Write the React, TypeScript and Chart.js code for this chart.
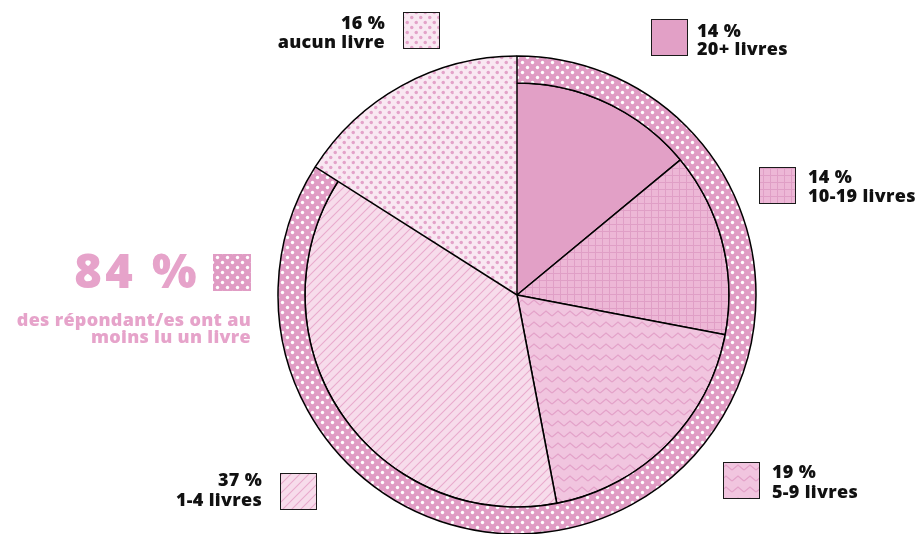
import React, { useEffect, useRef } from "react";
import { Chart, registerables } from "chart.js";

Chart.register(...registerables);

// ---- data ----
const categories = ["aucun livre", "20+ livres", "10-19 livres", "5-9 livres", "1-4 livres"];
const shares = [16, 14, 14, 19, 37];
const ringLabels = ["aucun livre", "au moins un livre"];
const ringValues = [16, 84];
const headline = "84 %";
const headlineText = ["des répondant/es ont au", "moins lu un livre"];

const FONT = "'Open Sans', Lato, sans-serif";

function tile(w: number, h: number, draw: (c: CanvasRenderingContext2D) => void): CanvasPattern {
  const cv = document.createElement("canvas");
  cv.width = w;
  cv.height = h;
  const c = cv.getContext("2d")!;
  draw(c);
  const p = document.createElement("canvas").getContext("2d")!.createPattern(cv, "repeat")!;
  return p;
}

function makePatterns() {
  const dot = (c: CanvasRenderingContext2D, x: number, y: number, r: number) => {
    c.beginPath();
    c.arc(x, y, r, 0, Math.PI * 2);
    c.fill();
  };
  const ring = tile(10, 10, (c) => {
    c.fillStyle = "#E09CC4";
    c.fillRect(0, 0, 10, 10);
    c.fillStyle = "#FFFFFF";
    dot(c, 2.5, 2.5, 1.7);
    dot(c, 7.5, 7.5, 1.7);
  });
  const none = tile(9, 10, (c) => {
    c.fillStyle = "#F9E8F2";
    c.fillRect(0, 0, 9, 10);
    c.fillStyle = "#E3A2C9";
    dot(c, 2.25, 2.5, 1.75);
    dot(c, 6.75, 7.5, 1.75);
  });
  const grid = tile(7, 7, (c) => {
    c.fillStyle = "#EDB7D6";
    c.fillRect(0, 0, 7, 7);
    c.fillStyle = "#E09FC6";
    c.fillRect(0, 0, 7, 1);
    c.fillRect(0, 0, 1, 7);
  });
  const zig = tile(12, 11, (c) => {
    c.fillStyle = "#F1C5DF";
    c.fillRect(0, 0, 12, 11);
    c.strokeStyle = "#E3A2C9";
    c.lineWidth = 1.3;
    c.beginPath();
    c.moveTo(0, 8);
    c.lineTo(6, 3);
    c.lineTo(12, 8);
    c.stroke();
  });
  const diag = tile(9, 9, (c) => {
    c.fillStyle = "#F7DCEB";
    c.fillRect(0, 0, 9, 9);
    c.strokeStyle = "#E8AACD";
    c.lineWidth = 1.1;
    c.beginPath();
    c.moveTo(-1, 10);
    c.lineTo(10, -1);
    c.moveTo(-1, 1);
    c.lineTo(1, -1);
    c.moveTo(8, 10);
    c.lineTo(10, 8);
    c.stroke();
  });
  return { ring, none, grid, zig, diag, solid: "#E2A0C6" };
}

export default function App() {
  const ref = useRef<HTMLCanvasElement>(null);

  useEffect(() => {
    const canvas = ref.current!;
    const P = makePatterns();
    const innerFills = [P.none, P.solid, P.grid, P.zig, P.diag];
    const ringFills = [P.none, P.ring];

    const labelLayout = [
      { sq: [403, 12], align: "right", tx: 385, ty: [29, 48] },
      { sq: [651, 19], align: "left", tx: 697, ty: [37, 55] },
      { sq: [759, 167], align: "left", tx: 808, ty: [183, 202] },
      { sq: [723, 462], align: "left", tx: 772, ty: [478, 498] },
      { sq: [280, 473], align: "right", tx: 262, ty: [486, 506] },
    ];

    const labelsPlugin = {
      id: "labels",
      afterDatasetsDraw(chart: any) {
        const ctx: CanvasRenderingContext2D = chart.ctx;
        const outerArc = chart.getDatasetMeta(0).data[0];
        ctx.save();
        ctx.strokeStyle = "#000";
        ctx.lineWidth = 1.5;
        ctx.beginPath();
        ctx.arc(outerArc.x, outerArc.y, outerArc.outerRadius, outerArc.startAngle, outerArc.endAngle);
        ctx.stroke();
        ctx.restore();
      },
      afterDraw(chart: any) {
        const ctx: any = chart.ctx;
        ctx.save();
        categories.forEach((cat, i) => {
          const L = labelLayout[i];
          ctx.fillStyle = innerFills[i] as any;
          ctx.fillRect(L.sq[0], L.sq[1], 36, 36);
          ctx.strokeStyle = "#1a1a1a";
          ctx.lineWidth = 1;
          ctx.strokeRect(L.sq[0] + 0.5, L.sq[1] + 0.5, 36, 36);
          ctx.fillStyle = "#111";
          ctx.font = `800 18px ${FONT}`;
          ctx.letterSpacing = "0.3px";
          ctx.textAlign = L.align as CanvasTextAlign;
          ctx.textBaseline = "alphabetic";
          ctx.fillText(`${shares[i]} %`, L.tx, L.ty[0]);
          ctx.fillText(cat, L.tx, L.ty[1]);
        });
        // headline
        ctx.fillStyle = P.ring as any;
        ctx.fillRect(213, 254, 38, 37);
        ctx.fillStyle = "#E6A3CA";
        ctx.textAlign = "right";
        ctx.font = `800 47px ${FONT}`;
        ctx.letterSpacing = "3.5px";
        ctx.fillText(headline, 200, 288);
        ctx.font = `800 18px ${FONT}`;
        ctx.letterSpacing = "0.3px";
        ctx.fillText(headlineText[0], 251, 326);
        ctx.fillText(headlineText[1], 251, 343);
        ctx.restore();
      },
    };

    const rotation = -(shares[0] / 100) * 360;

    const chart = new Chart(canvas, {
      type: "pie",
      data: {
        labels: categories,
        datasets: [
          {
            label: "ring",
            data: ringValues,
            backgroundColor: ringFills as any,
            borderColor: "#000",
            borderWidth: [0, 1.5],
            weight: 27,
            clip: false as any,
          } as any,
          {
            label: "shares",
            data: shares,
            backgroundColor: innerFills as any,
            borderColor: "#000",
            borderWidth: [0, 1.5, 1.5, 1.5, 1.5],
            weight: 212,
            clip: false as any,
          } as any,
        ],
      },
      options: {
        responsive: false,
        animation: false,
        events: [],
        rotation,
        radius: 239,
        layout: { padding: { left: 115, right: 0, top: 56, bottom: 0 } },
        plugins: { legend: { display: false }, tooltip: { enabled: false } },
      } as any,
      plugins: [labelsPlugin],
    });
    return () => chart.destroy();
  }, []);

  return (
    <div style={{ position: "absolute", left: 0, top: 0, width: 919, height: 534, background: "#fff" }}>
      <canvas ref={ref} width={919} height={534} />
    </div>
  );
}
